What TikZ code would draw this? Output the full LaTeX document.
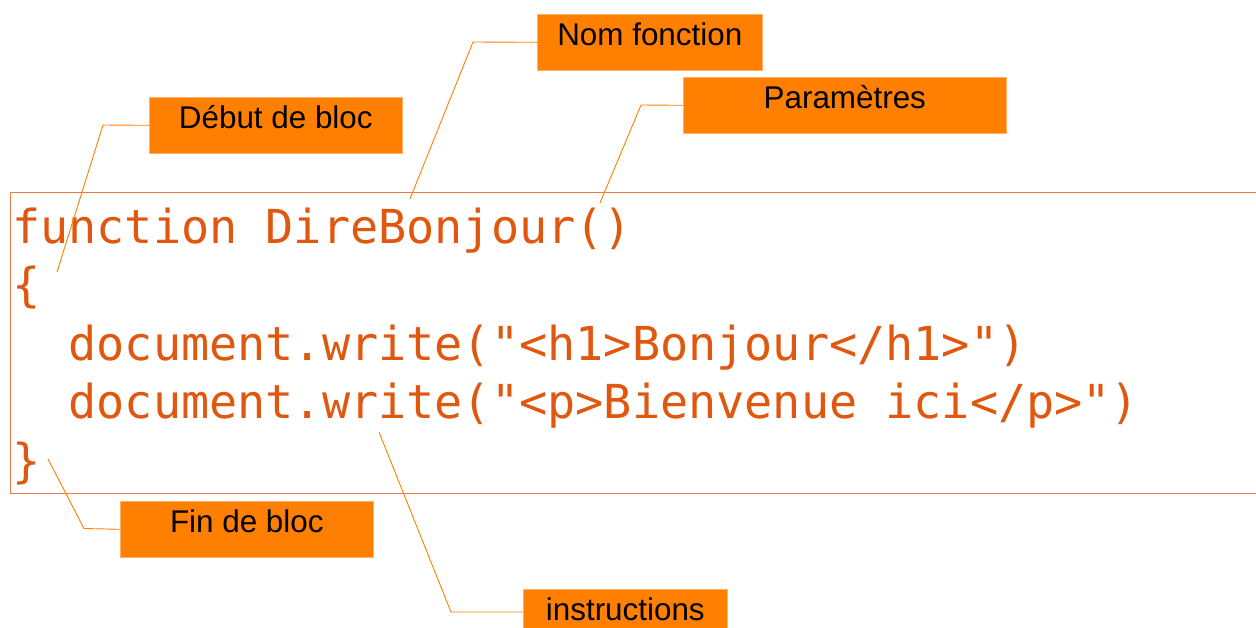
\documentclass[tikz,border=0pt]{standalone}
\usepackage{fontspec}
\newfontfamily\lblfont{Liberation Sans}
\newfontfamily\codefont{DejaVu Sans Mono}
\definecolor{codecol}{RGB}{224,88,16}
\definecolor{framecol}{RGB}{230,125,70}
\definecolor{boxfill}{RGB}{255,128,0}
\definecolor{boxedge}{RGB}{255,176,100}
\definecolor{leadcol}{RGB}{255,128,0}
\tikzset{
  lbl/.style={rectangle, fill=boxfill, draw=boxedge, line width=0.6pt,
    inner sep=0pt, anchor=north west, text height=31pt, text depth=25pt,
    font=\lblfont\fontsize{31.4}{31.4}\selectfont, text=black},
  codeline/.style={anchor=base west, inner sep=0pt, text=codecol,
    font=\codefont\fontsize{46.8}{46.8}\selectfont},
  leader/.style={draw=leadcol, line width=0.9pt},
  frame/.style={draw=framecol, line width=1pt}
}
\begin{document}
\begin{tikzpicture}[x=1pt,y=-1pt]
\useasboundingbox (0,0) rectangle (1256,627);
% code frame (open on the right)
\draw[frame] (1260,192) -- (10,192) -- (10,493) -- (1260,493);
% code
\node[codeline] (l1) at (12,243) {function DireBonjour()};
\node[codeline] (l2) at (12,301.5) {\{};
\node[codeline] (l3) at (12,360) {\ \ document.write("<h1>Bonjour</h1>")};
\node[codeline] (l4) at (12,418.5) {\ \ document.write("<p>Bienvenue ici</p>")};
\node[codeline] (l5) at (12,477) {\}};
% label boxes
\node[lbl, minimum width=225pt] (nom) at (537,14) {Nom fonction};
\node[lbl, minimum width=323pt] (par) at (683,77) {Paramètres};
\node[lbl, minimum width=253pt] (deb) at (149,97) {Début de bloc};
\node[lbl, minimum width=253pt] (fin) at (120,501) {Fin de bloc};
\node[lbl, minimum width=204pt] (ins) at (523,589) {instructions};
% leader points
\coordinate (nomA) at (473,42);   \coordinate (nomB) at (410,199);
\coordinate (parA) at (641,105);  \coordinate (parB) at (600,203);
\coordinate (debA) at (103,125);  \coordinate (debB) at (57,272);
\coordinate (finA) at (84,528.5); \coordinate (finB) at (48,459);
\coordinate (insA) at (451,612);  \coordinate (insB) at (379,432);
% leaders
\draw[leader] (nom.west) -- (nomA) -- (nomB);
\draw[leader] (par.west) -- (parA) -- (parB);
\draw[leader] (deb.west) -- (debA) -- (debB);
\draw[leader] (fin.west) -- (finA) -- (finB);
\draw[leader] (ins.west |- insA) -- (insA) -- (insB);
\end{tikzpicture}
\end{document}
